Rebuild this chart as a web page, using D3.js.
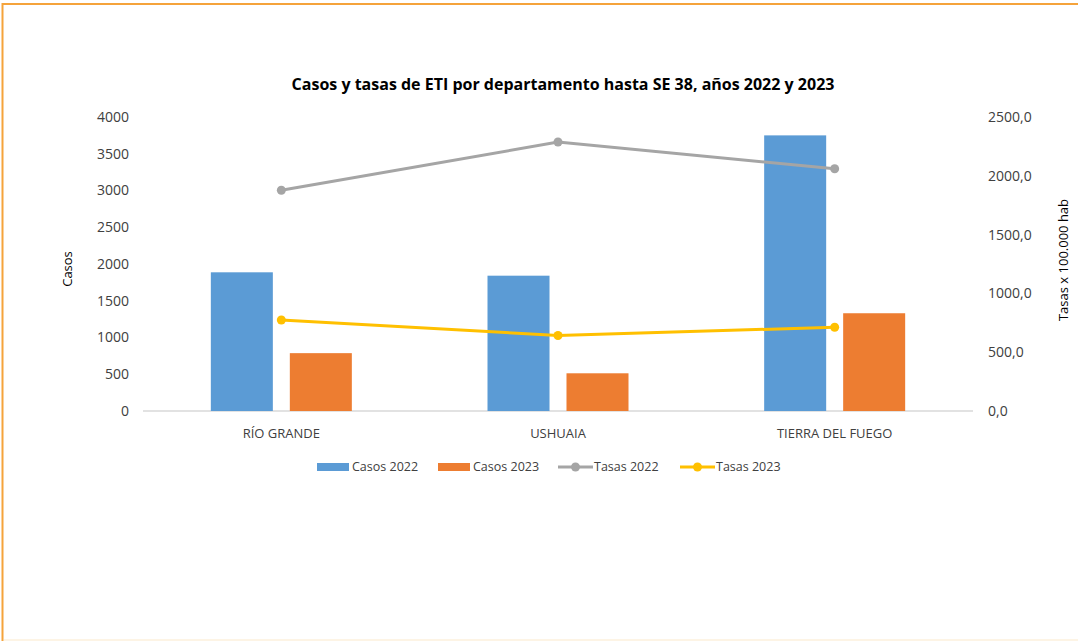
<!DOCTYPE html>
<html>
<head>
<meta charset="utf-8">
<script src="https://cdn.jsdelivr.net/npm/d3@7"></script>
<style>
  body { margin: 0; background: #fff; }
  svg { display: block; font-family: "Open Sans", sans-serif; }
</style>
</head>
<body>
<script>
// data
var departamentos = ['RÍO GRANDE', 'USHUAIA', 'TIERRA DEL FUEGO'];
var casos2022 = [1887, 1841, 3750];
var casos2023 = [787, 513, 1330];
var tasas2022 = [1877, 2287, 2060];
var tasas2023 = [774, 642, 712];
var casosTicks = [0, 500, 1000, 1500, 2000, 2500, 3000, 3500, 4000];
var tasasTicks = [0, 500, 1000, 1500, 2000, 2500];
var barSeries = ['Casos 2022', 'Casos 2023'];
var lineSeries = ['Tasas 2022', 'Tasas 2023'];

var screen = {width: 1078, height: 641};
var plot = {left: 143, right: 973, top: 117, bottom: 411};

var colors = d3.scaleOrdinal()
  .domain(['Casos 2022', 'Casos 2023', 'Tasas 2022', 'Tasas 2023'])
  .range(['#5B9BD5', '#ED7D31', '#A5A5A5', '#FFC000']);

var svg = d3.select('body').append('svg')
  .attr('width', screen.width)
  .attr('height', screen.height);

// frame
svg.append('line')
  .attr('x1', 2).attr('x2', screen.width).attr('y1', 4).attr('y2', 4)
  .attr('stroke', '#F5A33B').attr('stroke-width', 2);
svg.append('line')
  .attr('x1', 2.5).attr('x2', 2.5).attr('y1', 3).attr('y2', screen.height)
  .attr('stroke', '#F5A33B').attr('stroke-width', 2);
svg.append('line')
  .attr('x1', 4).attr('x2', screen.width).attr('y1', 640).attr('y2', 640)
  .attr('stroke', '#FDF1DD').attr('stroke-width', 1.5);

// scales
var x0 = d3.scaleBand()
  .domain(departamentos)
  .range([plot.left, plot.right]);

var x1 = d3.scaleBand()
  .domain(barSeries)
  .range([0, 141])
  .paddingInner(0.215);
var groupOffset = (x0.bandwidth() - 141) / 2;

var yLeft = d3.scaleLinear().domain([0, 4000]).range([plot.bottom, plot.top]);
var yRight = d3.scaleLinear().domain([0, 2500]).range([plot.bottom, plot.top]);

// title
svg.append('text')
  .attr('x', 563)
  .attr('y', 90)
  .attr('text-anchor', 'middle')
  .style('font-size', '16px')
  .style('font-weight', 'bold')
  .attr('fill', '#000')
  .text('Casos y tasas de ETI por departamento hasta SE 38, años 2022 y 2023');

// axes
var yAxisLeft = d3.axisLeft(yLeft).tickValues(casosTicks).tickSize(0).tickPadding(0)
  .tickFormat(d3.format('d'));
svg.append('g')
  .attr('class', 'yAxis')
  .attr('transform', 'translate(129,0)')
  .call(yAxisLeft)
  .call(function(g){ g.select('.domain').remove(); })
  .selectAll('text')
  .style('font-size', '14px')
  .style('font-family', '"Open Sans", sans-serif')
  .attr('fill', '#404040');

var yAxisRight = d3.axisRight(yRight).tickValues(tasasTicks).tickSize(0).tickPadding(0)
  .tickFormat(function(d){ return d3.format('.1f')(d).replace('.', ','); });
svg.append('g')
  .attr('class', 'yAxis2')
  .attr('transform', 'translate(988,0)')
  .call(yAxisRight)
  .call(function(g){ g.select('.domain').remove(); })
  .selectAll('text')
  .style('font-size', '14px')
  .style('font-family', '"Open Sans", sans-serif')
  .attr('fill', '#404040');

// baseline
svg.append('line')
  .attr('x1', plot.left).attr('x2', plot.right)
  .attr('y1', yLeft(0)).attr('y2', yLeft(0))
  .attr('stroke', '#D9D9D9').attr('stroke-width', 1.5);

// axis titles
svg.append('text')
  .attr('transform', 'translate(72,' + 269 + ') rotate(-90)')
  .attr('text-anchor', 'middle')
  .style('font-size', '13px')
  .attr('fill', '#000')
  .text('Casos');
svg.append('text')
  .attr('transform', 'translate(1068,' + 260 + ') rotate(-90)')
  .attr('text-anchor', 'middle')
  .style('font-size', '13px')
  .attr('fill', '#000')
  .text('Tasas x 100.000 hab');

// category labels
svg.append('g')
  .selectAll('text')
  .data(departamentos)
  .enter()
  .append('text')
  .attr('x', function(d){ return x0(d) + x0.bandwidth() / 2; })
  .attr('y', 438)
  .attr('text-anchor', 'middle')
  .style('font-size', '13px')
  .attr('fill', '#404040')
  .text(function(d){ return d; });

// bars
var barData = [];
departamentos.forEach(function(dep, i){
  barData.push({dep: dep, serie: 'Casos 2022', value: casos2022[i]});
  barData.push({dep: dep, serie: 'Casos 2023', value: casos2023[i]});
});

svg.append('g')
  .selectAll('rect')
  .data(barData)
  .enter()
  .append('rect')
  .attr('x', function(d){ return x0(d.dep) + groupOffset + x1(d.serie); })
  .attr('y', function(d){ return yLeft(d.value); })
  .attr('width', x1.bandwidth())
  .attr('height', function(d){ return yLeft(0) - yLeft(d.value); })
  .attr('fill', function(d){ return colors(d.serie); });

// lines
var lineData = [
  {serie: 'Tasas 2022', values: tasas2022},
  {serie: 'Tasas 2023', values: tasas2023}
];

var line = d3.line()
  .x(function(d, i){ return x0(departamentos[i]) + x0.bandwidth() / 2; })
  .y(function(d){ return yRight(d); });

var lines = svg.append('g')
  .selectAll('g')
  .data(lineData)
  .enter()
  .append('g');

lines.append('path')
  .attr('d', function(d){ return line(d.values); })
  .attr('fill', 'none')
  .attr('stroke', function(d){ return colors(d.serie); })
  .attr('stroke-width', 3);

lines.selectAll('circle')
  .data(function(d){ return d.values.map(function(v){ return {serie: d.serie, value: v}; }); })
  .enter()
  .append('circle')
  .attr('cx', function(d, i){ return x0(departamentos[i]) + x0.bandwidth() / 2; })
  .attr('cy', function(d){ return yRight(d.value); })
  .attr('r', 4.5)
  .attr('fill', function(d){ return colors(d.serie); });

// legend
var legendY = 467;
var legendPos = [317, 438, 558, 680];
var legend = svg.append('g')
  .attr('class', 'legend')
  .selectAll('g')
  .data(barSeries.concat(lineSeries))
  .enter()
  .append('g')
  .attr('transform', function(d, i){ return 'translate(' + legendPos[i] + ',' + legendY + ')'; });

legend.filter(function(d){ return barSeries.indexOf(d) >= 0; })
  .append('rect')
  .attr('x', 0).attr('y', -4)
  .attr('width', 32).attr('height', 8)
  .attr('fill', function(d){ return colors(d); });

legend.filter(function(d){ return lineSeries.indexOf(d) >= 0; })
  .call(function(g){
    g.append('line')
      .attr('x1', 0).attr('x2', 35).attr('y1', 0).attr('y2', 0)
      .attr('stroke', function(d){ return colors(d); })
      .attr('stroke-width', 3);
    g.append('circle')
      .attr('cx', 17.5).attr('cy', 0).attr('r', 4.5)
      .attr('fill', function(d){ return colors(d); });
  });

legend.append('text')
  .attr('x', function(d){ return barSeries.indexOf(d) >= 0 ? 35 : 36; })
  .attr('y', 0)
  .attr('dy', '0.35em')
  .style('font-size', '12.5px')
  .attr('fill', '#404040')
  .text(function(d){ return d; });
</script>
</body>
</html>
